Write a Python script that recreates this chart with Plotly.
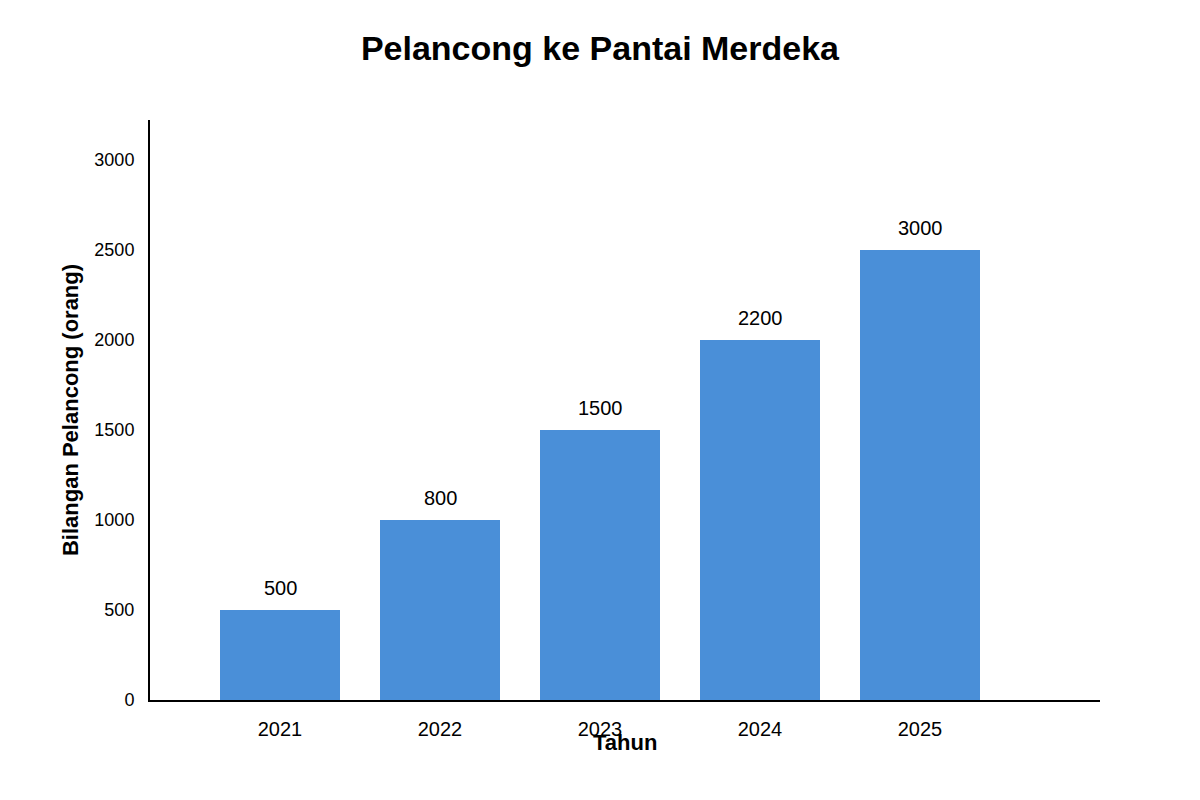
import plotly.graph_objects as go

# data
years = ["2021", "2022", "2023", "2024", "2025"]
bar_heights = [500, 1000, 1500, 2000, 2500]
bar_labels = ["500", "800", "1500", "2200", "3000"]
y_ticks = [0, 500, 1000, 1500, 2000, 2500, 3000]

fig = go.Figure()
fig.add_trace(go.Bar(
    x=years,
    y=bar_heights,
    marker=dict(color="#4a8fd8", line=dict(width=0)),
    width=0.75,
))

# value labels above bars (category index used for x position)
for i, (h, lab) in enumerate(zip(bar_heights, bar_labels)):
    fig.add_annotation(
        x=i, y=h, text=lab, showarrow=False,
        yanchor="middle", yshift=22,
        font=dict(size=20, color="black"),
    )

# x axis title (sits over tick labels like the original)
fig.add_annotation(
    x=0.5, y=0, xref="paper", yref="paper",
    text="<b>Tahun</b>", showarrow=False,
    yanchor="middle", yshift=-42,
    font=dict(size=22, color="black"),
)

fig.update_layout(
    width=1200,
    height=800,
    paper_bgcolor="white",
    plot_bgcolor="white",
    font=dict(family="Liberation Sans, Arial, sans-serif", color="black"),
    title=dict(
        text="<b>Pelancong ke Pantai Merdeka</b>",
        x=0.4933,
        xanchor="center",
        y=0.95,
        yanchor="middle",
        font=dict(size=34),
    ),
    margin=dict(l=142, r=108, t=112, b=108),
    showlegend=False,
)

fig.update_xaxes(
    type="category",
    range=[-0.8125, 5.125],
    showline=True,
    linecolor="black",
    linewidth=2,
    showgrid=False,
    ticks="",
    ticklabelstandoff=10,
    tickfont=dict(size=20),
)

fig.update_yaxes(
    range=[0, 3222],
    tickvals=y_ticks,
    showline=True,
    linecolor="black",
    linewidth=2,
    showgrid=False,
    zeroline=False,
    ticks="",
    ticklabelstandoff=10,
    tickfont=dict(size=18),
    title=dict(text="<b>Bilangan Pelancong (orang)</b>", font=dict(size=22), standoff=10),
)

fig.write_html("out.html")
